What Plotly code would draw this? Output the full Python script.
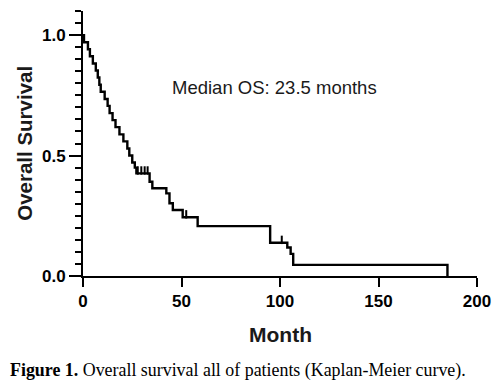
import plotly.graph_objects as go

# Kaplan-Meier step points (months, survival probability)
months = [0, 0.5, 2.5, 3.5, 5, 6.5, 7.5, 8.3, 9, 11, 12.5, 13.5, 15, 16.5, 18.5,
          20.5, 22.5, 23.5, 25, 26.3, 27.1, 33.8, 35.2, 42.3, 43.9, 45.6, 50.6,
          58.2, 95, 103.7, 105.4, 106.7, 185]
survival = [1.0, 0.97, 0.941, 0.912, 0.882, 0.853, 0.824, 0.794, 0.765, 0.735,
            0.706, 0.676, 0.647, 0.618, 0.588, 0.559, 0.529, 0.5, 0.471, 0.45,
            0.426, 0.391, 0.364, 0.343, 0.302, 0.274, 0.244, 0.207, 0.138,
            0.118, 0.092, 0.046, 0.0]

# Censored observations
censor_months = [27.8, 29.6, 31.3, 32.8, 52.4, 100.9]
censor_surv = [0.426, 0.426, 0.426, 0.426, 0.244, 0.138]

x_ticks = [0, 50, 100, 150, 200]
y_ticks = [0.0, 0.5, 1.0]
median_text = "Median OS: 23.5 months"

fig = go.Figure()
fig.add_trace(go.Scatter(x=months, y=survival, mode="lines", line_shape="hv",
                         line=dict(color="black", width=2.4), hoverinfo="skip",
                         showlegend=False, cliponaxis=False))
fig.add_trace(go.Scatter(x=censor_months, y=[v + 0.012 for v in censor_surv],
                         mode="markers",
                         marker=dict(symbol="line-ns", size=6,
                                     line=dict(color="black", width=2)),
                         showlegend=False, hoverinfo="skip", cliponaxis=False))

bold = dict(family="Liberation Sans, Arial", size=17, color="black", weight="bold")

fig.update_layout(
    width=502, height=387,
    margin=dict(l=83, r=22, t=11, b=111),
    paper_bgcolor="white", plot_bgcolor="white",
    xaxis=dict(range=[0, 200], tickvals=x_ticks, ticks="outside", ticklen=9,
               tickwidth=2, tickcolor="black", showline=True, linewidth=2,
               linecolor="black", showgrid=False, zeroline=False,
               tickfont=bold),
    yaxis=dict(range=[0, 1.1], tickvals=y_ticks, tickformat=".1f",
               ticks="outside", ticklen=12, tickwidth=2, tickcolor="black",
               showline=True, linewidth=2, linecolor="black", showgrid=False,
               zeroline=False, tickfont=bold,
               minor=dict(dtick=0.05, tick0=0, ticks="outside", ticklen=6,
                          tickwidth=2, tickcolor="black", showgrid=False)),
    annotations=[
        dict(text=median_text, x=97, y=0.784, xref="x", yref="y",
             showarrow=False, xanchor="center", yanchor="middle",
             font=dict(family="Liberation Sans, Arial", size=18.5, color="#1a1a1a")),
        dict(text="<b>Overall Survival</b>", x=-0.149, y=0.5, xref="paper",
             yref="paper", textangle=-90, showarrow=False, xanchor="center",
             yanchor="middle",
             font=dict(family="Liberation Sans, Arial", size=20.5, color="#1a1a1a")),
        dict(text="<b>Month</b>", x=0.5, y=-0.219, xref="paper", yref="paper",
             showarrow=False, xanchor="center", yanchor="middle",
             font=dict(family="Liberation Sans, Arial", size=21, color="#1a1a1a")),
        dict(text="<b>Figure 1.</b> Overall survival all of patients (Kaplan-Meier curve).",
             x=-0.191, y=-0.355, xref="paper", yref="paper", showarrow=False,
             xanchor="left", yanchor="middle",
             font=dict(family="Liberation Serif, Times New Roman", size=17.9,
                       color="black")),
    ],
)

fig.write_html("out.html", config={"displayModeBar": False},
               post_script="document.body.style.margin='0';document.body.style.overflow='hidden';")
